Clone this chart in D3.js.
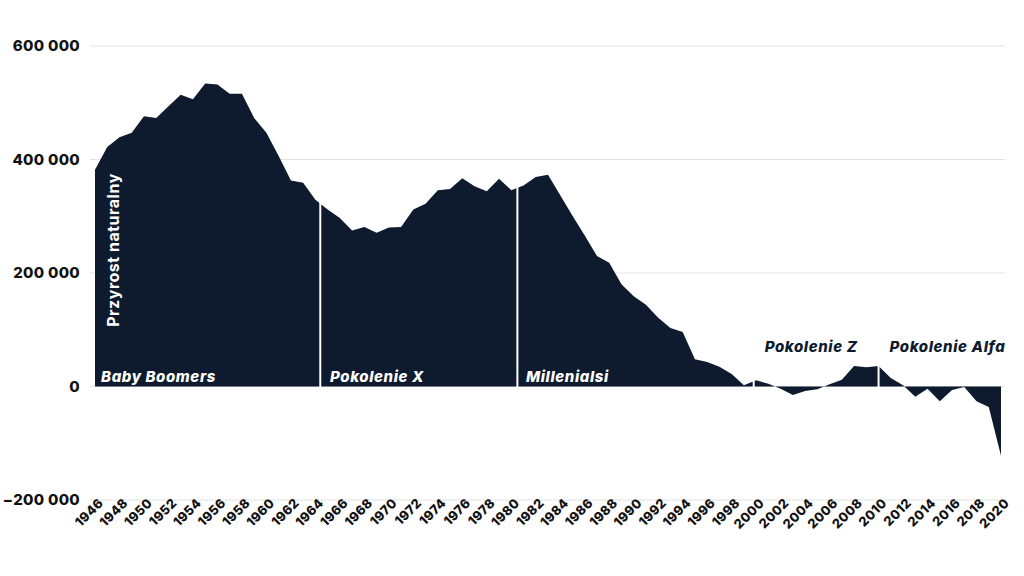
<!DOCTYPE html>
<html>
<head>
<meta charset="utf-8">
<script src="https://cdnjs.cloudflare.com/ajax/libs/d3/7.8.5/d3.min.js"></script>
<style>
  body { margin: 0; background: #fff; }
  svg { display: block; font-family: Inter, "Open Sans", sans-serif; }
</style>
</head>
<body>
<svg id="chart" width="1024" height="576"></svg>
<script>
// przyrost naturalny, tys. osob
var years = d3.range(1946, 2021);
var values = [
  382, 422, 439, 447, 476, 473, 494, 514, 506, 534,   // 1946-1955
  532, 516, 516, 473, 447, 406, 363, 359, 329, 312,   // 1956-1965
  297, 275, 281, 271, 280, 281, 312, 322, 346, 348,   // 1966-1975
  367, 353, 344, 366, 346, 354, 369, 373, 337, 301,   // 1976-1985
  266, 230, 218, 180, 159, 144, 121, 103,  96,  48,   // 1986-1995
   43,  35,  22,   2,  11,   5,  -4, -15,  -8,  -5,   // 1996-2005
    4,  12,  36,  34,  36,  15,   2, -18,  -4, -26,   // 2006-2015
   -6,  -1, -26, -36, -122                            // 2016-2020
];
var yTicks = [-200000, 0, 200000, 400000, 600000];
var xTicks = d3.range(1946, 2021, 2);

// granice pokolen i podpisy
var boundaries = [1964.4, 1980.5, 1999.8, 2010];
var genNames = ["Baby Boomers", "Pokolenie X", "Millenialsi", "Pokolenie Z", "Pokolenie Alfa"];
var genStart = [1946.5, 1965.2, 1981.2, 2000.7, 2010.9];
var genInside = [true, true, true, false, false];

var DARK = "#0e1b2e";

var data = years.map(function(y, i) { return { year: y, value: values[i] * 1000 }; });

var svg = d3.select("#chart");

var x = d3.scaleLinear().domain([1946, 2020]).range([95, 1001]);
var y = d3.scaleLinear().domain([-200000, 600000]).range([500, 46]);

var fmt = function(v) { return d3.format(",")(v).replace(/,/g, " "); };

// siatka
svg.append("g")
  .selectAll("line")
  .data(yTicks)
  .enter().append("line")
  .attr("x1", 90).attr("x2", 1005)
  .attr("y1", function(d) { return y(d); })
  .attr("y2", function(d) { return y(d); })
  .attr("stroke", "#e2e2e2")
  .attr("stroke-width", 1);

svg.append("g")
  .selectAll("text")
  .data(yTicks)
  .enter().append("text")
  .attr("x", 80)
  .attr("y", function(d) { return y(d); })
  .attr("dy", "0.35em")
  .attr("text-anchor", "end")
  .attr("font-size", 15)
  .attr("font-weight", 800)
  .attr("letter-spacing", 0.3)
  .attr("fill", "#111")
  .text(fmt);

// obszar
var area = d3.area()
  .x(function(d) { return x(d.year); })
  .y0(y(0))
  .y1(function(d) { return y(d.value); });

svg.append("path")
  .datum(data)
  .attr("d", area)
  .attr("fill", DARK);

// linie podzialu pokolen
function valueAt(yr) {
  var i = Math.min(Math.floor(yr - 1946), values.length - 2);
  var t = yr - 1946 - i;
  return (values[i] * (1 - t) + values[i + 1] * t) * 1000;
}

svg.append("g")
  .selectAll("line")
  .data(boundaries)
  .enter().append("line")
  .attr("x1", function(d) { return x(d); })
  .attr("x2", function(d) { return x(d); })
  .attr("y1", function(d) { return y(valueAt(d)) - 2; })
  .attr("y2", y(0) + 1)
  .attr("stroke", "#fff")
  .attr("stroke-width", 2);

// podpisy pokolen
svg.append("g")
  .selectAll("text")
  .data(genNames)
  .enter().append("text")
  .attr("x", function(d, i) { return x(genStart[i]); })
  .attr("y", function(d, i) { return genInside[i] ? 382 : 352; })
  .attr("font-size", 15)
  .attr("font-weight", 800)
  .attr("font-style", "italic")
  .attr("letter-spacing", 0.6)
  .attr("fill", function(d, i) { return genInside[i] ? "#fff" : DARK; })
  .text(function(d) { return d; });

// tytul osi
svg.append("text")
  .attr("transform", "translate(119,250) rotate(-90)")
  .attr("text-anchor", "middle")
  .attr("font-size", 16)
  .attr("font-weight", 700)
  .attr("letter-spacing", 0.5)
  .attr("fill", "#fff")
  .text("Przyrost naturalny");

// os X
svg.append("g")
  .selectAll("text")
  .data(xTicks)
  .enter().append("text")
  .attr("transform", function(d) { return "translate(" + (x(d) + 9) + ",504) rotate(-45)"; })
  .attr("text-anchor", "end")
  .attr("font-size", 13)
  .attr("font-weight", 800)
  .attr("letter-spacing", 0.3)
  .attr("fill", "#111")
  .text(function(d) { return d; });
</script>
</body>
</html>
